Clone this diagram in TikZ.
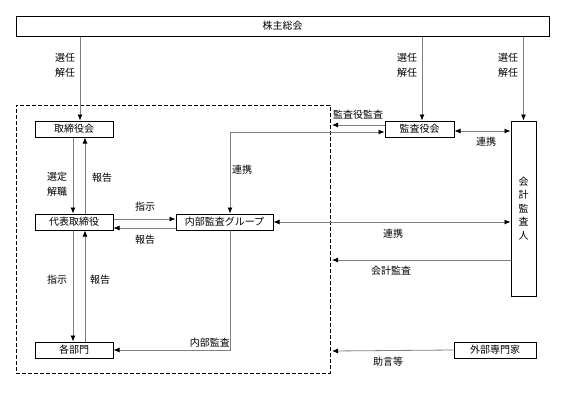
\documentclass[tikz,border=0pt]{standalone}
\usepackage{fontspec}
\usepackage{xcolor}
\usepackage{tikz}
\usetikzlibrary{arrows.meta, positioning, calc}
\newfontfamily\jpfont{Noto Sans CJK JP}
\definecolor{linegray}{RGB}{128, 128, 128}

\begin{document}
\begin{tikzpicture}[
    x=1pt, y=-1pt,
    box/.style={rectangle, draw=black, line width=1pt, minimum width=78pt, minimum height=16pt, inner sep=0pt, font=\jpfont\fontsize{10}{12}\selectfont},
    lbl/.style={inner sep=0pt, align=center, font=\jpfont\fontsize{10}{15}\selectfont},
    arrow/.style={-{Latex[length=6pt,width=5pt,black]}, linegray, line width=0.8pt},
    dblarrow/.style={{Latex[length=6pt,width=5pt,black]}-{Latex[length=6pt,width=5pt,black]}, linegray, line width=0.8pt}
]
\useasboundingbox (0,0) rectangle (576,397);

% Main boxes
\node[box, minimum width=533pt, minimum height=20pt] (agm) at (282.5,26) {株主総会};
\node[draw, dashed, dash pattern=on 4pt off 2pt, line width=0.8pt, minimum width=314pt, minimum height=268pt, inner sep=0pt] (company) at (173,239) {};
\node[box] (board) at (74,129) {取締役会};
\node[box] (ceo) at (74,222) {代表取締役};
\node[box] (depts) at (74,350) {各部門};
\node[box, minimum width=97pt] (iag) at (224.5,222) {内部監査グループ};
\node[box, minimum width=69pt] (kansa) at (419.5,129) {監査役会};
\node[box, minimum width=25pt, minimum height=175pt, align=center, font=\jpfont\fontsize{10}{13.5}\selectfont] (auditor) at (523.5,208.5) {会\\計\\監\\査\\人};
\node[box, minimum width=82pt] (expert) at (495,350) {外部専門家};

% Free ends on the dashed line
\coordinate (kansa-in) at (332,125);
\coordinate (audit-in) at (332,260);
\coordinate (expert-in) at (332,351);

% Arrows from the shareholders
\draw[arrow] ([xshift=6]agm.south -| board.north) -- ([xshift=6]board.north);
\draw[arrow] ([xshift=2.5]agm.south -| kansa.north) -- ([xshift=2.5]kansa.north);
\draw[arrow] (agm.south -| auditor.north) -- (auditor.north);

% Inside the company
\draw[arrow] ([xshift=-1]board.south) -- ([xshift=-1]ceo.north);
\draw[arrow] ([xshift=11]ceo.north) -- ([xshift=11]board.south);
\draw[arrow] ([xshift=-1]ceo.south) -- ([xshift=-1]depts.north);
\draw[arrow] ([xshift=11]depts.north) -- ([xshift=11]ceo.south);
\draw[arrow] ([yshift=3]ceo.east) -- ([yshift=3]ceo.east -| iag.west);
\draw[arrow] ([yshift=-6]iag.west) -- ([yshift=-6]iag.west -| ceo.east);
\draw[arrow] ([xshift=5.5]iag.south) |- (depts.east);

% Audit links
\draw[dblarrow] ([yshift=-3]kansa.west) -| ([xshift=5.5]iag.north);
\draw[arrow] ([yshift=4]kansa.west) -- (kansa-in);
\draw[dblarrow] ([yshift=-2]kansa.east) -- ([yshift=-2]kansa.east -| auditor.west);
\draw[dblarrow] (iag.east) -- (iag.east -| auditor.west);
\draw[arrow] (audit-in -| auditor.west) -- (audit-in);
\draw[arrow] (expert.west) -- (expert-in);

% Labels
\node[lbl] (lsel1) at (65,65) {選任\\解任};
\node[lbl] (lsel2) at (407,65) {選任\\解任};
\node[lbl] (lsel3) at (508,65) {選任\\解任};
\node[lbl] (lappoint) at (57,184) {選定\\解職};
\node[lbl] (lrep1) at (102,178) {報告};
\node[lbl] (linst1) at (57,280) {指示};
\node[lbl] (lrep2) at (100,280) {報告};
\node[lbl] (linst2) at (145,207) {指示};
\node[lbl] (lrep3) at (145,240) {報告};
\node[lbl] (llink1) at (242,170) {連携};
\node[lbl, anchor=south east] (linternal) at (230,348) {内部監査};
\node[lbl] (lkansa) at (358,115) {監査役監査};
\node[lbl] (llink2) at (486,142) {連携};
\node[lbl] (llink3) at (393,234) {連携};
\node[lbl] (laudit) at (391,271) {会計監査};
\node[lbl] (ladvice) at (388,362) {助言等};
\end{tikzpicture}
\end{document}
